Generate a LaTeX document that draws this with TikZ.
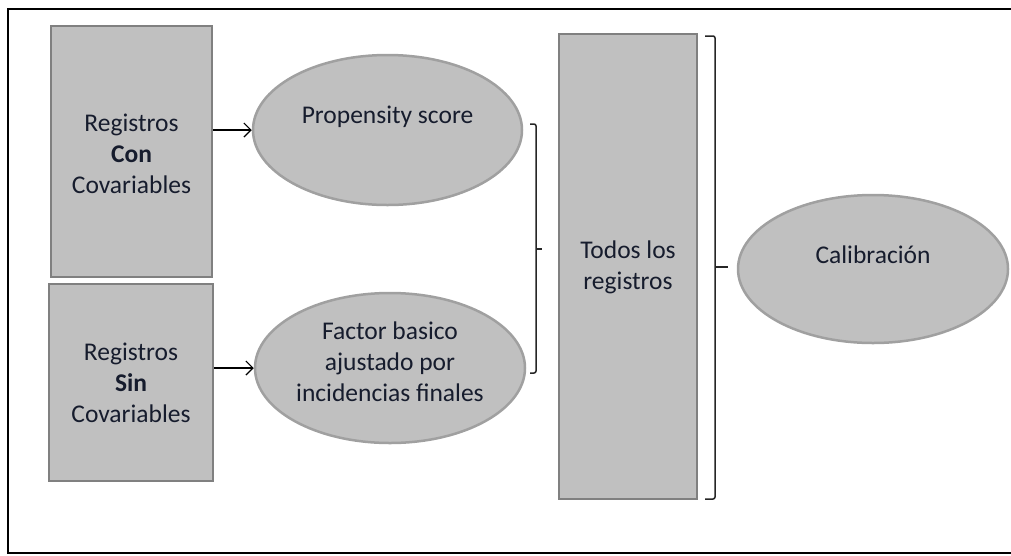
\documentclass[tikz,border=0pt]{standalone}
\usepackage{fontspec}
\setmainfont{Carlito}
\usetikzlibrary{shapes.geometric,arrows.meta}
\definecolor{boxfill}{RGB}{192,192,192}
\definecolor{boxline}{RGB}{128,128,128}
\definecolor{elline}{RGB}{160,160,160}
\definecolor{txt}{RGB}{22,28,45}
\tikzset{
  recbox/.style={draw=boxline, line width=2.5pt, fill=boxfill, inner sep=0pt, align=center, text=txt},
  ellbox/.style={ellipse, draw=elline, line width=2.5pt, fill=boxfill, inner sep=0pt},
  lbl/.style={align=center, text=txt, inner sep=0pt, font=\fontsize{25.5}{31}\selectfont},
  arr/.style={-{Straight Barb[length=7pt,width=14pt,line width=1.2pt]}, line width=1.2pt, black},
  brk/.style={line width=1.5pt, black!85, rounded corners=2pt},
}
\begin{document}
\begin{tikzpicture}[x=1pt,y=-1pt]
\useasboundingbox (0,0) rectangle (1011,555);
\begin{scope}
\clip (0,0) rectangle (1011,555);
\draw[line width=2pt] (1020,9) -- (8,9) -- (8,553) -- (1020,553);
\end{scope}
% boxes
\node[recbox, minimum width=161pt, minimum height=251pt] (con) at (131.5,151.5) {};
\node[lbl] (contxt) at (131.5,154) {Registros\\\textbf{Con}\\Covariables};
\node[recbox, minimum width=164pt, minimum height=197pt] (sin) at (131,382.5) {};
\node[lbl] (sintxt) at (131,383) {Registros\\\textbf{Sin}\\Covariables};
\node[recbox, minimum width=138pt, minimum height=465pt] (todos) at (628,266.5) {};
\node[lbl] (todostxt) at (628,267) {Todos los\\registros};
% ellipses
\node[ellbox, minimum width=269pt, minimum height=150pt] (ps) at (387.5,130) {};
\node[lbl] (pstxt) at (387.5,117) {Propensity score};
\node[ellbox, minimum width=270pt, minimum height=150pt] (fb) at (390,368) {};
\node[lbl] (fbtxt) at (390,362) {Factor basico\\ajustado por\\incidencias finales};
\node[ellbox, minimum width=270pt, minimum height=148pt] (cal) at (873,269) {};
\node[lbl] (caltxt) at (873,255) {Calibración};
% arrows
\draw[arr] (con.east |- ps.west) -- (ps.west);
\draw[arr] (sin.east |- fb.west) -- (fb.west);
% bracket 1
\coordinate (b1t) at (536,124);
\coordinate (b1b) at (536,373);
\coordinate (b1m) at (536,249);
\draw[brk] ([xshift=-6pt]b1t) -- (b1t) -- (b1b) -- ([xshift=-6pt]b1b);
\draw[line width=1.5pt, black!85] (b1m) -- ([xshift=6pt]b1m);
% bracket 2
\coordinate (b2t) at (715,36);
\coordinate (b2b) at (715,499);
\coordinate (b2m) at (715,267);
\draw[brk] ([xshift=-10pt]b2t) -- (b2t) -- (b2b) -- ([xshift=-10pt]b2b);
\draw[line width=1.5pt, black!85] (b2m) -- ([xshift=13pt]b2m);
\end{tikzpicture}
\end{document}
